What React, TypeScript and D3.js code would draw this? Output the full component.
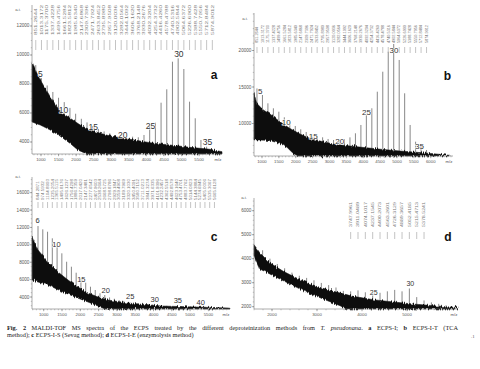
import { useEffect, useRef } from "react";
import * as d3 from "d3";

type Pt = [number, number];

// hexose ladder (m/z), DP 5..36, spectra a and b
const peakMzAB = [
  851.2644, 1013.3172, 1175.37, 1337.4228, 1499.4756, 1661.5284, 1823.5812, 1985.634,
  2147.6868, 2309.7396, 2471.7924, 2633.8452, 2795.898, 2957.9508, 3120.0036, 3282.0564,
  3444.1092, 3606.162, 3768.2148, 3930.2676, 4092.3204, 4254.3732, 4416.426, 4578.4788,
  4740.5316, 4902.5844, 5064.6372, 5226.69, 5388.7428, 5550.7956, 5712.8484, 5874.9012,
];
const peakIntA = [
  9300, 8400, 7900, 7450, 7050, 6750, 6350, 5950, 5600, 5350, 5100, 4900, 4730, 4600, 4483, 4324,
  4255, 4366, 4324, 4483, 5172, 5331, 6710, 7634, 9538, 9772, 9034, 6780, 5634, 4138, 3676, 3450,
];
const peakIntB = [
  14800, 13904, 12767, 12082, 11616, 10849, 10247, 9658, 9205, 8836, 8562, 8288, 8110, 7877, 7740, 7644,
  7836, 8100, 8658, 9795, 11164, 12082, 14356, 17096, 19836, 20890, 18699, 14137, 9795, 7507, 7055, 6370,
];

// DP 6..43, spectrum c
const peakMzC = [
  844.2871, 974.5932, 1104.8993, 1235.2054, 1365.5115, 1495.8176, 1626.1237, 1756.4298,
  1886.7359, 2017.042, 2147.3481, 2277.6542, 2407.9603, 2538.2664, 2668.5725, 2798.8786,
  2929.1847, 3059.4908, 3189.7969, 3320.103, 3450.4091, 3580.7152, 3711.0213, 3841.3274,
  3971.6335, 4101.9396, 4232.2457, 4362.5518, 4492.8579, 4623.164, 4753.4701, 4883.7762,
  5014.0823, 5144.3884, 5274.6945, 5405.0006, 5535.3067, 5665.6128,
];
const peakIntC = [
  12161, 11782, 11506, 10747, 9900, 9023, 8057, 7483, 6793, 6149, 5644, 5184, 4805, 4425, 4230, 3950,
  3800, 3650, 3550, 3450, 3370, 3300, 3230, 3170, 3120, 3070, 3030, 2990, 2960, 2940, 2930, 2920,
  2910, 2900, 2890, 2880, 2870, 2860,
];

// DP 10..35, spectrum d
const peakMzD = [
  1791.3625, 1954.4153, 2117.4681, 2280.5209, 2443.5737, 2606.6265, 2769.6793, 2932.7321,
  3095.7849, 3258.8377, 3421.8905, 3584.9433, 3747.9961, 3911.0489, 4074.1017, 4237.1545,
  4400.2073, 4563.2601, 4726.3129, 4889.3657, 5052.4185, 5215.4713, 5378.5241, 5541.5769,
  5704.6297, 5867.6825,
];
const peakIntD = [
  4350, 4000, 3780, 3600, 3420, 3290, 3200, 3100, 2990, 2900, 2800, 2660, 2640, 2680, 2600, 2560,
  2580, 2640, 2700, 2640, 2760, 2400, 2260, 2180, 2120, 2060,
];

// noise envelopes [m/z, intensity]
const noiseTopA: Pt[] = [
  [744, 9450], [980, 8276], [1264, 7124], [1548, 6090], [1832, 5634], [2116, 5172], [2400, 4828],
  [2685, 4600], [2969, 4414], [3537, 4186], [4105, 3952], [4673, 3793], [5241, 3634], [5810, 3497],
  [6150, 3331],
];
const noiseLowA: Pt[] = [
  [744, 5379], [980, 5172], [1264, 4828], [1548, 4400], [1832, 3900], [2050, 3450], [2300, 3172],
];
const noiseTopB: Pt[] = [
  [763, 14137], [843, 12767], [1039, 11849], [1237, 11301], [1533, 10247], [1830, 9315], [2126, 8562],
  [2422, 7945], [2719, 7603], [3113, 7192], [3607, 6918], [4102, 6671], [4596, 6438], [5089, 6233],
  [5584, 6055], [6076, 5863], [6570, 5644],
];
const noiseLowB: Pt[] = [
  [763, 7740], [940, 7740], [1237, 7658], [1533, 7260], [1731, 6788], [1928, 5877], [2076, 5548],
];
const noiseTopC: Pt[] = [
  [680, 10897], [844, 9402], [1117, 8023], [1391, 6874], [1664, 5954], [1937, 5149], [2210, 4460],
  [2484, 4000], [2757, 3655], [3303, 3310], [4205, 2966], [5134, 2851], [6036, 2736], [6090, 2700],
];
const noiseLowC: Pt[] = [
  [680, 5954], [844, 5724], [1117, 5379], [1473, 4690], [1855, 4000], [2210, 3425], [2484, 2966], [2675, 2620],
];
const noiseTopD: Pt[] = [
  [1600, 4583], [1733, 4236], [1956, 3820], [2251, 3473], [2622, 3125], [2993, 2847], [3362, 2639],
  [3807, 2431], [4251, 2292], [4696, 2196], [5140, 2112], [5584, 2042], [6104, 1971], [6133, 1960],
];
const noiseLowD: Pt[] = [
  [1600, 4125], [1733, 3570], [2029, 3291], [2400, 2945], [2771, 2597], [3140, 2320], [3511, 2042], [3660, 1904],
];

// DP labels
const dpTextA = ["5", "10", "15", "20", "25", "30", "35"];
const dpMzA = [980, 1642, 2486, 3324, 4114, 4923, 5739];
const dpIntA = [8503, 6021, 4828, 4255, 4876, 9841, 3793];
const dpTextB = ["5", "10", "15", "20", "25", "30", "35"];
const dpMzB = [950, 1720, 2520, 3302, 4096, 4911, 5667];
const dpIntB = [14041, 9795, 7877, 7192, 11164, 19616, 6466];
const dpTextC = ["6", "10", "15", "20", "25", "30", "35", "40"];
const dpMzC = [831, 1350, 2027, 2694, 3363, 4033, 4664, 5292];
const dpIntC = [12540, 9782, 5759, 4425, 3736, 3460, 3276, 3080];
const dpTextD = ["25", "30"];
const dpMzD = [4260, 5073];
const dpIntD = [2488, 2875];

// axis ticks
const xTicksA = [1000, 1500, 2000, 2500, 3000, 3500, 4000, 4500, 5000, 5500];
const xTicksB = [1000, 1500, 2000, 2500, 3000, 3500, 4000, 4500, 5000, 5500, 6000];
const xTicksC = [1000, 1500, 2000, 2500, 3000, 3500, 4000, 4500, 5000, 5500];
const xTicksD = [2000, 3000, 4000, 5000];
const yTicksA = [4000, 6000, 8000, 10000, 12000];
const yTicksB = [10000, 15000, 20000];
const yTicksC = [4000, 6000, 8000, 10000, 12000, 14000, 16000];
const yTicksD = [2000, 3000, 4000, 5000, 6000];

interface PanelCfg {
  letter: string;
  xRange: [number, number];
  yRange: [number, number];
  mzDomain: [number, number];
  intDomain: [number, number];
  xTicks: number[];
  xMinor: number;
  yTicks: number[];
  yMinor: number;
  top: Pt[];
  low: Pt[];
  peakMz: number[];
  peakInt: number[];
  ann: [number, number];
  annText: [number, number];
  annTick: [number, number];
  dpText: string[];
  dpMz: number[];
  dpInt: number[];
  dpSize: number;
  letterPos: [number, number];
  aiPos: [number, number];
}

const panels: PanelCfg[] = [
  {
    letter: "a", xRange: [32, 222], yRange: [154, 5], mzDomain: [744, 6150], intDomain: [3172, 13448],
    xTicks: xTicksA, xMinor: 100, yTicks: yTicksA, yMinor: 500,
    top: noiseTopA, low: noiseLowA, peakMz: peakMzAB, peakInt: peakIntA,
    ann: [0, 31], annText: [35, 5], annTick: [50, 40],
    dpText: dpTextA, dpMz: dpMzA, dpInt: dpIntA, dpSize: 8.5,
    letterPos: [214, 78.5], aiPos: [18, 11],
  },
  {
    letter: "b", xRange: [254, 453], yRange: [156, 13], mzDomain: [763, 6659], intDomain: [5548, 25137],
    xTicks: xTicksB, xMinor: 100, yTicks: yTicksB, yMinor: 1000,
    top: noiseTopB, low: noiseLowB, peakMz: peakMzAB, peakInt: peakIntB,
    ann: [0, 31], annText: [43, 25], annTick: [53, 47],
    dpText: dpTextB, dpMz: dpMzB, dpInt: dpIntB, dpSize: 8,
    letterPos: [447.5, 79.5], aiPos: [245, 20],
  },
  {
    letter: "c", xRange: [32, 230], yRange: [309, 177], mzDomain: [680, 6090], intDomain: [2620, 17800],
    xTicks: xTicksC, xMinor: 100, yTicks: yTicksC, yMinor: 500,
    top: noiseTopC, low: noiseLowC, peakMz: peakMzC, peakInt: peakIntC,
    ann: [0, 37], annText: [200, 179], annTick: [208, 202],
    dpText: dpTextC, dpMz: dpMzC, dpInt: dpIntC, dpSize: 7.5,
    letterPos: [214, 241], aiPos: [18, 178],
  },
  {
    letter: "d", xRange: [254, 458], yRange: [309, 198], mzDomain: [1600, 6133], intDomain: [1904, 6529],
    xTicks: xTicksD, xMinor: 200, yTicks: yTicksD, yMinor: 200,
    top: noiseTopD, low: noiseLowD, peakMz: peakMzD, peakInt: peakIntD,
    ann: [12, 22], annText: [227, 202], annTick: [239, 232],
    dpText: dpTextD, dpMz: dpMzD, dpInt: dpIntD, dpSize: 7,
    letterPos: [448, 241], aiPos: [244, 199],
  },
];

const fmt = d3.format(".4f");

function Panel({ c }: { c: PanelCfg }) {
  const x = d3.scaleLinear().domain(c.mzDomain).range(c.xRange);
  const y = d3.scaleLinear().domain(c.intDomain).range(c.yRange);
  const [base, top] = c.yRange;
  const line = d3.line<Pt>().x((d) => x(d[0])).y((d) => y(d[1]));
  const last = c.top[c.top.length - 1];
  const outline: Pt[] = [...c.top, [last[0], c.intDomain[0]], ...[...c.low].reverse()];
  const below: Pt[] = [...c.low, [c.low[0][0], c.intDomain[0]]];
  const minorX = d3.range(Math.ceil(c.mzDomain[0] / c.xMinor) * c.xMinor, c.mzDomain[1], c.xMinor);
  const minorY = d3.range(Math.ceil(c.intDomain[0] / c.yMinor) * c.yMinor, c.intDomain[1], c.yMinor);
  const annIdx = d3.range(c.ann[0], c.ann[1] + 1);
  const annLen = c.annText[0] - c.annText[1];

  return (
    <g>
      {/* peaks */}
      {c.peakMz.map((m, i) => (
        <line key={"p" + i} x1={x(m)} x2={x(m)} y1={base} y2={y(c.peakInt[i])} stroke="#6a6a6a" strokeWidth={0.8} />
      ))}
      {/* white gap under the noise band */}
      <path d={line(below) + "Z"} fill="#fff" />
      {/* noise band */}
      <path d={line(outline) + "Z"} fill="#0a0a0a" stroke="#0a0a0a" strokeWidth={0.5} filter="url(#rough)" />

      {/* axes */}
      <line x1={c.xRange[0]} x2={c.xRange[0]} y1={top} y2={base} stroke="#777" strokeWidth={0.6} />
      <line x1={c.xRange[0]} x2={c.xRange[1]} y1={base} y2={base} stroke="#777" strokeWidth={0.6} />
      {minorX.map((t) => (
        <line key={"mx" + t} x1={x(t)} x2={x(t)} y1={base} y2={base + 1.3} stroke="#888" strokeWidth={0.5} />
      ))}
      {minorY.map((t) => (
        <line key={"my" + t} x1={c.xRange[0] - 1.2} x2={c.xRange[0]} y1={y(t)} y2={y(t)} stroke="#888" strokeWidth={0.5} />
      ))}
      {c.xTicks.map((t) => (
        <g key={"xt" + t}>
          <line x1={x(t)} x2={x(t)} y1={base} y2={base + 2.2} stroke="#777" strokeWidth={0.6} />
          <text x={x(t)} y={base + 7} fontSize={4.3} textAnchor="middle" fill="#555">{t}</text>
        </g>
      ))}
      <text x={c.xRange[1] - 4} y={base + 7} fontSize={4.3} textAnchor="middle" fill="#555">m/z</text>
      {c.yTicks.map((t) => (
        <g key={"yt" + t}>
          <line x1={c.xRange[0] - 2.2} x2={c.xRange[0]} y1={y(t)} y2={y(t)} stroke="#777" strokeWidth={0.6} />
          <text x={c.xRange[0] - 2.6} y={y(t) + 1.5} fontSize={4.6} textAnchor="end" fill="#555">{t}</text>
        </g>
      ))}
      <text x={c.aiPos[0]} y={c.aiPos[1]} fontSize={4.3} textAnchor="middle" fill="#555">a.i.</text>

      {/* peak annotations */}
      {annIdx.map((i) => {
        const px = x(c.peakMz[i]);
        const s = fmt(c.peakMz[i]);
        return (
          <g key={"a" + i}>
            <text
              transform={`translate(${px + 1.3},${c.annText[0]}) rotate(-90)`}
              fontSize={3.6}
              fill="#777"
              textLength={(annLen * s.length) / 9}
              lengthAdjust="spacingAndGlyphs"
            >
              {s}
            </text>
            <line x1={px} x2={px} y1={c.annTick[0]} y2={c.annTick[1]} stroke="#aaa" strokeWidth={0.7} />
          </g>
        );
      })}

      {/* DP labels */}
      {c.dpText.map((t, i) => (
        <text
          key={"dp" + i}
          x={x(c.dpMz[i])}
          y={y(c.dpInt[i])}
          fontSize={c.dpSize}
          textAnchor="middle"
          fill="#333"
          stroke="#fff"
          strokeWidth={1.1}
          paintOrder="stroke"
        >
          {t}
        </text>
      ))}
      <text x={c.letterPos[0]} y={c.letterPos[1]} fontSize={12} fontWeight="bold" textAnchor="middle" fill="#111">
        {c.letter}
      </text>
    </g>
  );
}

export default function App() {
  const capRef = useRef<SVGTextElement>(null);

  // justify the first caption line
  useEffect(() => {
    const el = capRef.current;
    if (!el) return;
    el.setAttribute("word-spacing", "0");
    const natural = el.getComputedTextLength();
    const spaces = (el.textContent ?? "").split(" ").length - 1;
    el.setAttribute("word-spacing", String((451 - natural) / spaces));
  }, []);

  return (
    <svg
      width={480}
      height={369}
      style={{ position: "absolute", left: 0, top: 0, background: "#fff" }}
      fontFamily="Arial, 'Liberation Sans', sans-serif"
    >
      <defs>
        <filter id="rough" x="-5%" y="-10%" width="110%" height="120%">
          <feTurbulence type="fractalNoise" baseFrequency="1.1 0.04" numOctaves={2} seed={4} result="n" />
          <feColorMatrix in="n" type="matrix" values="0 0 0 0 0.5  0 1 0 0 0  0 0 1 0 0  0 0 0 0 1" result="m" />
          <feDisplacementMap in="SourceGraphic" in2="m" scale={5} xChannelSelector="R" yChannelSelector="G" />
        </filter>
      </defs>
      {panels.map((p) => (
        <Panel key={p.letter} c={p} />
      ))}
      <g fontFamily="'Liberation Serif', 'Times New Roman', serif" fontSize={6.3} fill="#222">
        <text ref={capRef} x={7} y={330}>
          <tspan fontWeight="bold">Fig. 2</tspan> MALDI-TOF MS spectra of the ECPS treated by the different
          deproteinization methods from <tspan fontStyle="italic">T. pseudonana</tspan>.{" "}
          <tspan fontWeight="bold">a</tspan> ECPS-I; <tspan fontWeight="bold">b</tspan> ECPS-I-T (TCA
        </text>
        <text x={7} y={336.5}>
          method); <tspan fontWeight="bold">c</tspan> ECPS-I-S (Sevag method); <tspan fontWeight="bold">d</tspan>{" "}
          ECPS-I-E (enzymolysis method)
        </text>
        <text x={471} y={338} fontSize={5} fill="#666">.1</text>
      </g>
    </svg>
  );
}
